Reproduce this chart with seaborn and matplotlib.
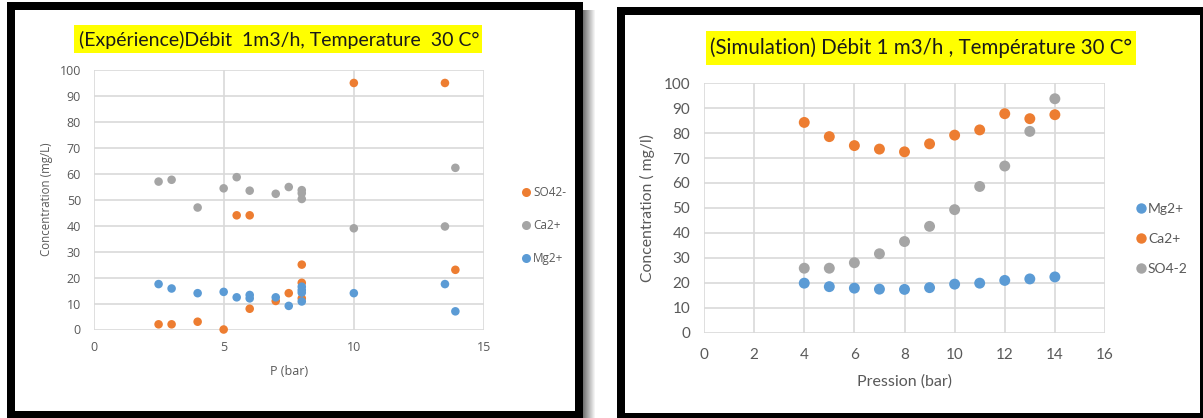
import matplotlib
matplotlib.use("Agg")
import matplotlib.pyplot as plt
import seaborn as sns
import pandas as pd
from matplotlib.patches import Rectangle
from matplotlib.lines import Line2D

# ---------------- data ----------------
# Left chart (Expérience)
exp_p_so4 = [2.5, 3, 4, 5, 5.5, 6, 6, 7, 7.5, 8, 8, 8, 10, 13.5, 13.9]
exp_c_so4 = [2, 2, 3, 0, 44, 44, 8, 11, 14, 25, 18, 12, 95, 95, 23]
exp_p_ca = [2.5, 3, 4, 5, 5.5, 6, 7, 7.5, 8, 8, 8, 10, 13.5, 13.9]
exp_c_ca = [57, 57.7, 47, 54.4, 58.7, 53.5, 52.3, 54.9, 53.7, 52.5, 50.3, 39, 39.7, 62.3]
exp_p_mg = [2.5, 3, 4, 5, 5.5, 6, 6, 7, 7.5, 8, 8, 8, 8, 10, 13.5, 13.9]
exp_c_mg = [17.5, 15.8, 14, 14.5, 12.4, 13.3, 12, 12.4, 9.1, 16.5, 15.2, 14.2, 10.8, 14, 17.5, 7]
exp_labels = ["SO42-", "Ca2+", "Mg2+"]

# Right chart (Simulation)
sim_p = [4, 5, 6, 7, 8, 9, 10, 11, 12, 13, 14]
sim_mg = [19.8, 18.4, 17.8, 17.4, 17.3, 18.0, 19.4, 19.8, 20.9, 21.5, 22.3]
sim_ca = [84.3, 78.6, 75.0, 73.6, 72.5, 75.7, 79.2, 81.3, 87.8, 85.8, 87.4]
sim_so4 = [25.8, 25.8, 28.0, 31.6, 36.5, 42.6, 49.3, 58.6, 66.8, 80.7, 93.8]
sim_labels = ["Mg2+", "Ca2+", "SO4-2"]

exp_title = "(Expérience)Débit  1m3/h, Temperature  30 C°"
sim_title = "(Simulation) Débit 1 m3/h , Température 30 C°"

BLUE, ORANGE, GRAY = "#5B9BD5", "#ED7D31", "#A5A5A5"
TXT = "#595959"
GRID = "#D9D9D9"

W, H = 1203, 418
sns.set_theme(style="white")
fig = plt.figure(figsize=(W / 100, H / 100), dpi=100)
fig.patch.set_facecolor("white")


def fx(x):
    return x / W


def fy(y):
    return 1 - y / H


def rect(x0, y0, x1, y1, color, z=0, alpha=1.0):
    fig.add_artist(Rectangle((fx(x0), fy(y1)), (x1 - x0) / W, (y1 - y0) / H,
                             transform=fig.transFigure, facecolor=color,
                             edgecolor="none", zorder=z, alpha=alpha))


# panel frames
for i in range(12):
    g = 0.45 + 0.55 * i / 12
    rect(583 + i, 10, 584 + i, 418, (g, g, g), z=-3)
rect(7, 2, 583, 418, "black", z=-2)
rect(15, 10, 575, 411, "white", z=-1)
rect(617, 7, 1203, 418, "black", z=-2)
rect(625, 15, 1200, 413, "white", z=-1)

# title boxes
rect(74, 25, 482, 53, "#FFFF00", z=1)
rect(706, 31, 1136, 65, "#FFFF00", z=1)
fig.text(fx(279), fy(39.5), exp_title, ha="center", va="center",
         fontsize=14, family="Lato", color="#1a1a1a", zorder=2)
fig.text(fx(921), fy(48), sim_title, ha="center", va="center",
         fontsize=14.8, family="Lato", color="#1a1a1a", zorder=2)


def style_axes(ax, xticks, yticks, fs, family):
    ax.set_facecolor("white")
    for s in ax.spines.values():
        s.set_visible(False)
    ax.set_xticks(xticks)
    ax.set_yticks(yticks)
    ax.grid(True, color=GRID, linewidth=1.2)
    ax.set_axisbelow(True)
    ax.tick_params(length=0, labelcolor=TXT, labelsize=fs)
    for lab in ax.get_xticklabels() + ax.get_yticklabels():
        lab.set_family(family)


# ---------------- left chart ----------------
axL = fig.add_axes([fx(93.5), fy(329.5), (484 - 93.5) / W, (329.5 - 70) / H])
dfL = pd.DataFrame({
    "P": exp_p_so4 + exp_p_ca + exp_p_mg,
    "C": exp_c_so4 + exp_c_ca + exp_c_mg,
    "ion": ["SO42-"] * len(exp_p_so4) + ["Ca2+"] * len(exp_p_ca) + ["Mg2+"] * len(exp_p_mg),
})
palL = {"SO42-": ORANGE, "Ca2+": GRAY, "Mg2+": BLUE}
sns.scatterplot(data=dfL, x="P", y="C", hue="ion", palette=palL, s=38,
                edgecolor="none", linewidth=0, ax=axL, legend=False, zorder=3,
                clip_on=False)
axL.set_xlim(0, 15)
axL.set_ylim(0, 100)
style_axes(axL, [0, 5, 10, 15], list(range(0, 101, 10)), 9, "Open Sans")
axL.tick_params(axis="y", pad=9)
axL.tick_params(axis="x", pad=8)
axL.set_xlabel("P (bar)", color=TXT, fontsize=9, family="Open Sans", labelpad=8)
axL.set_ylabel("Concentration (mg/L)", color=TXT, fontsize=8.3, family="Open Sans", labelpad=5)
hL = [Line2D([], [], marker="o", linestyle="none", markersize=6.5,
             markerfacecolor=palL[k], markeredgecolor="none", label=k) for k in exp_labels]
legL = axL.legend(handles=hL, loc="center left", bbox_to_anchor=(fx(523), fy(225.5)),
                  bbox_transform=fig.transFigure, frameon=False, handlelength=0.5,
                  handletextpad=0.35, labelspacing=1.68, borderpad=0, borderaxespad=0,
                  prop={"family": "Open Sans", "size": 8.5})
for t in legL.get_texts():
    t.set_color(TXT)

# ---------------- right chart ----------------
axR = fig.add_axes([fx(704), fy(332.5), (1105 - 704) / W, (332.5 - 83.3) / H])
dfR = pd.DataFrame({
    "P": sim_p * 3,
    "C": sim_mg + sim_ca + sim_so4,
    "ion": ["Mg2+"] * len(sim_p) + ["Ca2+"] * len(sim_p) + ["SO4-2"] * len(sim_p),
})
palR = {"Mg2+": BLUE, "Ca2+": ORANGE, "SO4-2": GRAY}
sns.scatterplot(data=dfR, x="P", y="C", hue="ion", palette=palR, s=62,
                edgecolor="none", linewidth=0, ax=axR, legend=False, zorder=3)
axR.set_xlim(0, 16)
axR.set_ylim(0, 100)
style_axes(axR, list(range(0, 17, 2)), list(range(0, 101, 10)), 11, "Lato")
axR.tick_params(axis="y", pad=10)
axR.tick_params(axis="x", pad=11)
axR.set_xlabel("Pression (bar)", color=TXT, fontsize=11.5, family="Lato", labelpad=9)
axR.set_ylabel("Concentration ( mg/l)", color=TXT, fontsize=11.3, family="Lato", labelpad=6)
hR = [Line2D([], [], marker="o", linestyle="none", markersize=7.5,
             markerfacecolor=palR[k], markeredgecolor="none", label=k) for k in sim_labels]
legR = axR.legend(handles=hR, loc="center left", bbox_to_anchor=(fx(1137.5), fy(239)),
                  bbox_transform=fig.transFigure, frameon=False, handlelength=0.55,
                  handletextpad=0.2, labelspacing=1.3, borderpad=0, borderaxespad=0,
                  prop={"family": "Lato", "size": 10})
for t in legR.get_texts():
    t.set_color(TXT)

fig.savefig("out.png", dpi=100, facecolor="white")
